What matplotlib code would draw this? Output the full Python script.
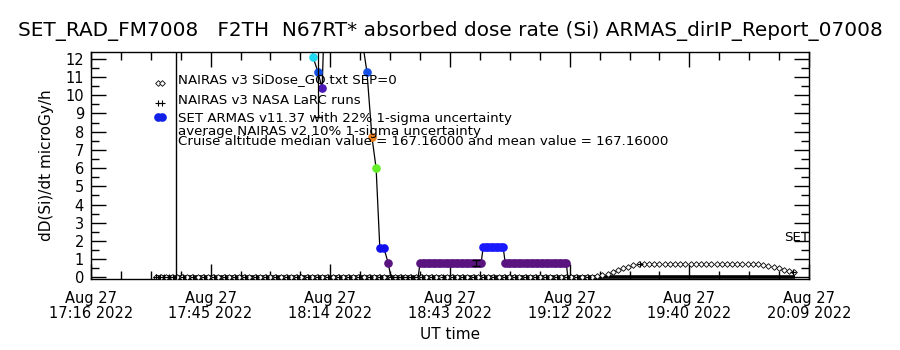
import numpy as np
import matplotlib
matplotlib.use("Agg")
import matplotlib.pyplot as plt

# time axis: minutes after 17:00 UT, 27 Aug 2022
x_lo, x_hi = 16.3, 189.3
tick_labels = ["Aug 27\n17:16 2022", "Aug 27\n17:45 2022", "Aug 27\n18:14 2022",
               "Aug 27\n18:43 2022", "Aug 27\n19:12 2022", "Aug 27\n19:40 2022",
               "Aug 27\n20:09 2022"]

# NAIRAS v3 SiDose_GO.txt (one sample every 1.25 min from 32 min)
nairas_t = 32.0 + 1.25 * np.arange(124)
nairas_v = [0.03] * 85 + \
    [0.06, 0.12, 0.20, 0.30, 0.40, 0.50, 0.60, 0.70] + \
    [0.72] * 24 + \
    [0.70, 0.62, 0.55, 0.50, 0.42, 0.35, 0.30]

# NAIRAS v3 NASA LaRC runs
larc_t = [32.0, 33.0, 34.0, 35.0, 36.0, 38.5, 41.0, 43.5, 46.0, 48.5, 51.0,
          53.5, 56.0, 58.5, 61.0, 63.5, 66.0, 68.5, 71.0, 73.5, 76.0, 78.5,
          81.0, 83.5, 86.0, 88.5, 91.0, 93.5, 96.0, 98.5, 101.0, 103.5,
          106.0, 108.5, 111.0, 113.5, 116.0, 118.5, 121.0, 123.5, 126.0,
          128.5, 131.0, 133.5, 136.0, 148.5, 185.5]
larc_v = [0.03] * 45 + [0.72, 0.30]

# NAIRAS SEP component (zero over the whole flight)
sep_t = [31.7, 185.9]
sep_v = [0.0, 0.0]

# SET ARMAS v11.37 dose rate
set_t = [69.5, 69.8, 71.0, 72.0, 72.5, 77.0, 81.4, 82.8, 84.0, 85.0, 85.9,
         86.9, 87.9, 88.6, 95.1]
set_v = [14.0, 12.1, 11.26, 10.38, 14.0, 18.0, 13.4, 11.26, 7.7, 6.0, 1.6,
         1.6, 0.8, 0.0, 0.0]
set_c = [None, "#20d8f0", "#1450e6", "#4a18b4", None, None, None, "#1450e6",
         "#e8801e", "#64f028", "#1010ee", "#1010ee", "#5a1480", None, None]
# plateaus after 95 min
plat1_t = list(np.linspace(95.6, 110.3, 25))
plat1_v = [0.8] * 25
plat2_t = list(np.linspace(110.8, 115.6, 9))
plat2_v = [1.67] * 9
plat3_t = list(np.linspace(116.1, 130.8, 25))
plat3_v = [0.8] * 25
set_t = set_t + plat1_t + plat2_t + plat3_t + [131.2]
set_v = set_v + plat1_v + plat2_v + plat3_v + [0.0]
set_c = set_c + ["#5a1480"] * 25 + ["#1a1aff"] * 9 + ["#5a1480"] * 25 + [None]

err_t = [71.0, 109.1]
err_v = [11.26, 0.8]
err_frac = 0.22

vline_t = 36.8

plt.rcParams["font.family"] = "DejaVu Sans"
fig = plt.figure(figsize=(9, 3.5), dpi=100)
ax = fig.add_axes([0.101, 0.203, 0.798, 0.648])

ax.plot(sep_t, sep_v, color="black", lw=2.6, solid_capstyle="butt", zorder=2)
ax.plot(nairas_t, nairas_v, ls="none", marker="D", ms=2.9, mfc="white",
        mec="black", mew=0.6, zorder=3)
ax.plot(larc_t, larc_v, ls="none", marker="+", ms=4.5, mec="black", mew=0.8,
        zorder=3)

ax.plot(set_t, set_v, color="black", lw=0.9, zorder=4)
for t, v, c in zip(set_t, set_v, set_c):
    if c is not None:
        ax.plot(t, v, marker="o", ms=5.2, mfc=c, mec=c, ls="none", zorder=5)
ax.errorbar(err_t, err_v, yerr=np.array(err_v) * err_frac, fmt="none",
            ecolor="black", elinewidth=0.9, capsize=3, zorder=6)

ax.axvline(vline_t, color="black", lw=1.0, zorder=4)

ax.set_xlim(x_lo, x_hi)
ax.set_ylim(-0.08, 12.36)
ticks = [x_lo + k * (x_hi - x_lo) / 6 for k in range(7)]
ax.set_xticks(ticks)
ax.set_xticklabels(tick_labels, fontsize=10.5, linespacing=1.0)
ax.set_xticks([x_lo + k * (x_hi - x_lo) / 24 for k in range(25)], minor=True)
ax.set_yticks(range(13))
ax.set_yticks(np.arange(0, 12.5, 0.5), minor=True)
ax.tick_params(axis="both", which="major", direction="in", length=11,
               width=1, top=True, right=True, labelsize=10.5, pad=5)
ax.tick_params(axis="x", which="major", pad=9)
ax.tick_params(axis="both", which="minor", direction="in", length=6,
               width=1, top=True, right=True)
for s in ax.spines.values():
    s.set_linewidth(1.0)

ax.set_xlabel("UT time", fontsize=11, labelpad=4)
ax.set_ylabel("dD(Si)/dt microGy/h", fontsize=11, labelpad=8)
fig.suptitle("SET_RAD_FM7008   F2TH  N67RT* absorbed dose rate (Si) ARMAS_dirIP_Report_07008",
             fontsize=14.4, y=0.94)

# in-plot legend
tr = ax.transAxes
ax.plot([0.093, 0.099], [0.866, 0.866], ls="none", marker="D", ms=2.9,
        mfc="white", mec="black", mew=0.6, transform=tr)
ax.plot([0.093, 0.099], [0.775, 0.775], ls="none", marker="+", ms=4.5,
        mec="black", mew=0.8, transform=tr)
ax.plot([0.093, 0.099], [0.714, 0.714], ls="none", marker="o", ms=5.2,
        mfc="#1020e8", mec="#1020e8", transform=tr)
leg_txt = [("NAIRAS v3 SiDose_GO.txt SEP=0", 0.881),
           ("NAIRAS v3 NASA LaRC runs", 0.789),
           ("SET ARMAS v11.37 with 22% 1-sigma uncertainty", 0.709),
           ("average NAIRAS v2 10% 1-sigma uncertainty", 0.648),
           ("Cruise altitude median value = 167.16000 and mean value = 167.16000", 0.604)]
for s, y in leg_txt:
    ax.text(0.121, y, s, transform=tr, fontsize=9.6, va="center", ha="left",
            zorder=7)
ax.text(186.2, 2.2, "SET", fontsize=9.6, ha="center", va="center")

fig.savefig("out.png", dpi=100)
